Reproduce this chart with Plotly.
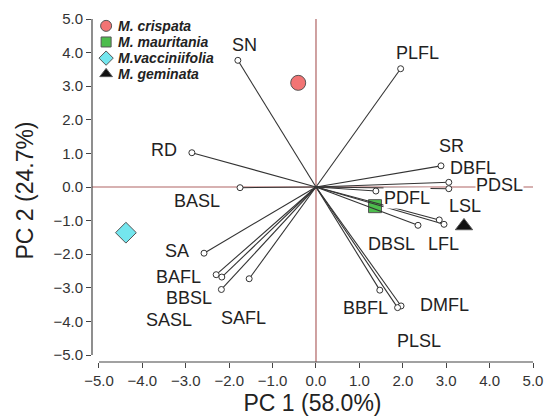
import plotly.graph_objects as go

# ---- Loadings (PC1, PC2) of the morphological variables ----
variables = ["SN", "RD", "BASL", "PLFL", "SR", "DBFL", "PDSL", "PDFL", "DBSL", "LSL",
             "LFL", "BBFL", "DMFL", "PLSL", "SA", "BAFL", "SASL", "BBSL", "SAFL"]
pc1_load = [-1.80, -2.86, -1.75, 1.95, 2.88, 3.06, 3.06, 1.38, 2.35, 2.84,
            2.95, 1.47, 1.96, 1.88, -2.58, -2.30, -2.17, -2.18, -1.54]
pc2_load = [3.77, 1.02, -0.02, 3.52, 0.63, 0.14, -0.05, -0.12, -1.14, -0.98,
            -1.11, -3.07, -3.54, -3.59, -1.97, -2.61, -2.68, -3.05, -2.73]

# ---- Species scores ----
species = ["M. crispata", "M. mauritania", "M.vacciniifolia", "M. geminata"]
pc1_score = [-0.41, 1.36, -4.38, 3.41]
pc2_score = [3.10, -0.57, -1.36, -1.16]

# ---- Axis ticks ----
tick_vals = [-5, -4, -3, -2, -1, 0, 1, 2, 3, 4, 5]

# ---- Styling ----
FONT = "Liberation Sans, Arial, sans-serif"
sp_symbol = ["circle", "square", "diamond", "triangle-up"]
sp_fill = ["#f27474", "#4dbd4d", "#74e6ee", "#111111"]
sp_size = [15, 13, 16, 15]
sp_legend_size = [11, 10, 11, 11]

# label placement for each variable name (x, y in plot units)
label_xy = {
    "SN": (-1.64, 4.23), "RD": (-3.50, 1.10), "BASL": (-2.74, -0.42),
    "PLFL": (2.35, 3.99), "SR": (3.13, 1.21), "DBFL": (3.62, 0.58),
    "PDSL": (4.22, 0.05), "PDFL": (2.10, -0.33), "LSL": (3.43, -0.57),
    "DBSL": (1.73, -1.70), "LFL": (2.93, -1.70), "BBFL": (1.13, -3.60),
    "DMFL": (2.95, -3.51), "PLSL": (2.37, -4.58), "SA": (-3.20, -1.90),
    "BAFL": (-3.16, -2.68), "BBSL": (-2.93, -3.30), "SASL": (-3.39, -3.96),
    "SAFL": (-1.68, -3.90),
}

fig = go.Figure()

# species scores
for i, name in enumerate(species):
    fig.add_trace(go.Scatter(
        x=[pc1_score[i]], y=[pc2_score[i]], mode="markers", name=name,
        marker=dict(symbol=sp_symbol[i], size=sp_size[i], color=sp_fill[i],
                    line=dict(color="#555555", width=1)),
        showlegend=False, hoverinfo="name",
    ))

# loading vectors from the origin
vx, vy = [], []
for x, y in zip(pc1_load, pc2_load):
    vx += [0, x, None]
    vy += [0, y, None]
fig.add_trace(go.Scatter(
    x=vx, y=vy, mode="lines", line=dict(color="#333333", width=1.1),
    showlegend=False, hoverinfo="skip",
))
fig.add_trace(go.Scatter(
    x=pc1_load, y=pc2_load, mode="markers", text=variables, hoverinfo="text",
    marker=dict(symbol="circle", size=6, color="white",
                line=dict(color="#333333", width=1)),
    showlegend=False,
))

# variable names
for name in variables:
    lx, ly = label_xy[name]
    fig.add_annotation(
        x=lx, y=ly, xref="x", yref="y", text=name, showarrow=False,
        font=dict(family=FONT, size=18, color="#222222"),
        bgcolor="white", borderpad=0,
    )

# key in the upper-left corner (overlay axis spanning the plot area, 0..1)
key_y = [0.980, 0.933, 0.886, 0.840]
for i, name in enumerate(species):
    fig.add_trace(go.Scatter(
        x=[0.032], y=[key_y[i]], xaxis="x2", yaxis="y2", mode="markers",
        marker=dict(symbol=sp_symbol[i], size=sp_legend_size[i], color=sp_fill[i],
                    line=dict(color="#555555", width=1)),
        showlegend=False, hoverinfo="skip",
    ))
    fig.add_annotation(
        x=0.055, y=key_y[i], xref="x2", yref="y2", xanchor="left", yanchor="middle",
        text="<b><i>%s</i></b>" % name, showarrow=False,
        font=dict(family=FONT, size=14, color="#222222"),
    )

X_RANGE = [-5.161, 5.0]
Y_RANGE = [-5.208, 5.0]
AX_COLOR = "#444444"
REF_COLOR = "#b06464"

fig.update_layout(
    width=549, height=416,
    margin=dict(l=92, r=16, t=19, b=54),
    paper_bgcolor="white", plot_bgcolor="white",
    xaxis=dict(
        range=X_RANGE, tickvals=tick_vals, tickformat=".1f",
        showgrid=False, zeroline=False, showline=False, automargin=False,
        ticks="outside", ticklen=5, tickwidth=1, tickcolor=AX_COLOR,
        tickfont=dict(family=FONT, size=15, color="#333333"),
        title=dict(text="PC 1 (58.0%)", standoff=9,
                   font=dict(family=FONT, size=23, color="#222222")),
    ),
    yaxis=dict(
        range=Y_RANGE, tickvals=tick_vals, tickformat=".1f",
        showgrid=False, zeroline=False, showline=False, automargin=False,
        ticks="outside", ticklen=5, tickwidth=1, tickcolor=AX_COLOR,
        tickfont=dict(family=FONT, size=15, color="#333333"),
        title=dict(text="PC 2 (24.7%)", standoff=13,
                   font=dict(family=FONT, size=23, color="#222222")),
    ),
    xaxis2=dict(range=[0, 1], overlaying="x", visible=False, fixedrange=True),
    yaxis2=dict(range=[0, 1], overlaying="y", visible=False, fixedrange=True),
    shapes=[
        # reference lines through the origin
        dict(type="line", xref="paper", x0=0, x1=1, yref="y", y0=0, y1=0,
             line=dict(color=REF_COLOR, width=1.2), layer="below"),
        dict(type="line", xref="x", x0=0, x1=0, yref="paper", y0=0, y1=1,
             line=dict(color=REF_COLOR, width=1.2), layer="below"),
        # offset axis lines spanning -5..5
        dict(type="line", xref="x", x0=-5, x1=5, yref="paper", y0=0, y1=0,
             line=dict(color=AX_COLOR, width=1.2)),
        dict(type="line", xref="paper", x0=0, x1=0, yref="y", y0=-5, y1=5,
             line=dict(color=AX_COLOR, width=1.2)),
    ],
    showlegend=False,
)

fig.write_html("out.html")
